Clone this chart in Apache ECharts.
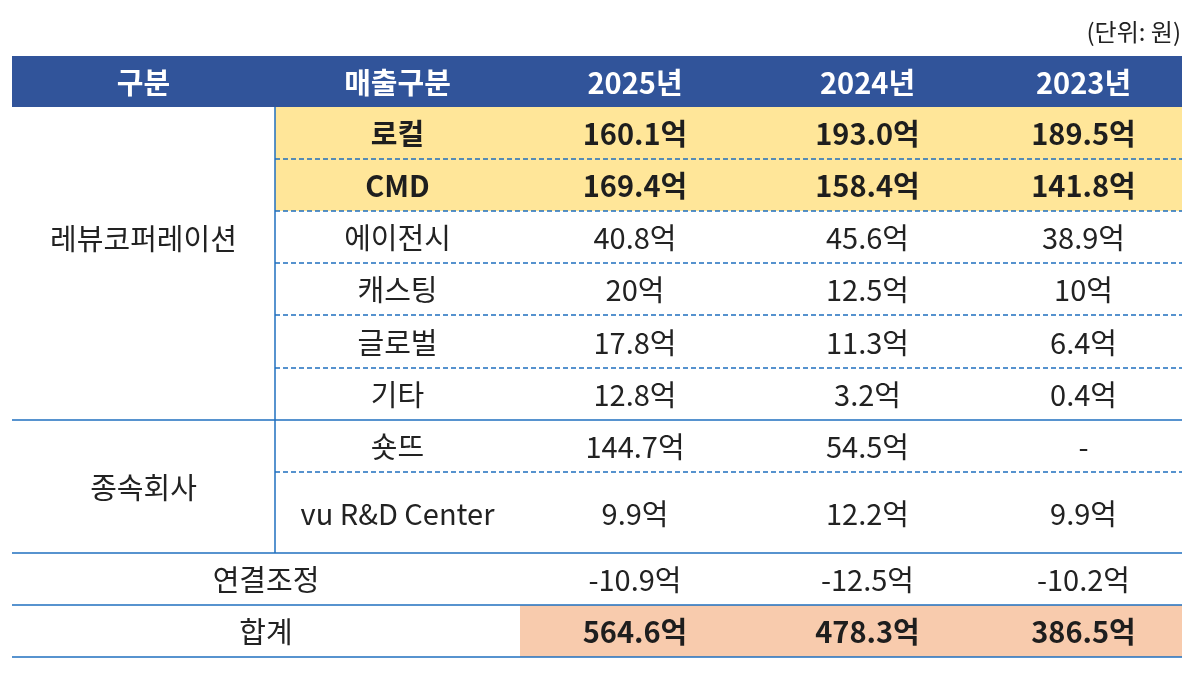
<!DOCTYPE html>
<html>
<head>
<meta charset="utf-8">
<script src="https://cdn.jsdelivr.net/npm/echarts@6/dist/echarts.min.js"></script>
<style>
  html, body { margin: 0; padding: 0; background: #fff; }
  #main { width: 1200px; height: 678px; }
</style>
</head>
<body>
<div id="main"></div>
<script>
// 표 데이터
const headCols = ['구분', '매출구분'];
const years = ['2025년', '2024년', '2023년'];
const groups = ['레뷰코퍼레이션', '종속회사'];
const items = ['로컬', 'CMD', '에이전시', '캐스팅', '글로벌', '기타', '숏뜨', 'vu R&D Center'];
const itemGroup = [0, 0, 0, 0, 0, 0, 1, 1];
const highlightItems = ['로컬', 'CMD'];
const sales2025 = ['160.1', '169.4', '40.8', '20', '17.8', '12.8', '144.7', '9.9'];
const sales2024 = ['193.0', '158.4', '45.6', '12.5', '11.3', '3.2', '54.5', '12.2'];
const sales2023 = ['189.5', '141.8', '38.9', '10', '6.4', '0.4', null, '9.9'];
const adjustLabel = '연결조정';
const adjustValues = ['-10.9', '-12.5', '-10.2'];
const totalLabel = '합계';
const totalValues = ['564.6', '478.3', '386.5'];
const unitText = '(단위: 원)';

// 레이아웃 (열 너비, 행 높이)
const colW = [263, 245, 230, 235, 197];
const rowH = [51, 52, 52, 52, 52, 53, 52, 52, 81, 52, 52];
const groupLabelRows = [[1, 6], [7, 9]];

const FONT = '"Noto Sans CJK KR", "Noto Sans", sans-serif';
const FS = 29;
const LINE = '#1f6fbf';
const DASH = '#1f6fbf';

const cum = (arr) => arr.reduce((a, v) => { a.push(a[a.length - 1] + v); return a; }, [0]);
const xEdge = cum(colW);
const yEdge = cum(rowH);
const fmt = (v) => (v == null ? '-' : v + '억');

// 셀 목록
const cells = [];
const addCell = (c0, c1, r0, r1, text, kind) => cells.push({ c0, c1, r0, r1, text, kind });

headCols.concat(years).forEach((h, i) => addCell(i, i + 1, 0, 1, h, 'head'));
groups.forEach((g, gi) => addCell(0, 1, groupLabelRows[gi][0], groupLabelRows[gi][1], g, 'group'));
const yearValues = [sales2025, sales2024, sales2023];
items.forEach((name, i) => {
  const hl = highlightItems.indexOf(name) >= 0;
  addCell(1, 2, i + 1, i + 2, name, hl ? 'hl' : 'item');
  yearValues.forEach((vals, y) => addCell(y + 2, y + 3, i + 1, i + 2, fmt(vals[i]), hl ? 'hl' : 'item'));
});
const adjRow = items.length + 1;
addCell(0, 2, adjRow, adjRow + 1, adjustLabel, 'item');
adjustValues.forEach((v, y) => addCell(y + 2, y + 3, adjRow, adjRow + 1, fmt(v), 'item'));
const totRow = adjRow + 1;
addCell(0, 2, totRow, totRow + 1, totalLabel, 'item');
totalValues.forEach((v, y) => addCell(y + 2, y + 3, totRow, totRow + 1, fmt(v), 'total'));

// 선 목록: [c0, c1, r0, r1, dashed]
const lines = [];
for (let i = 1; i < items.length; i++) {
  const r = i + 1;
  if (itemGroup[i] === itemGroup[i - 1]) lines.push([1, 5, r, r, 1]);
  else lines.push([0, 5, r, r, 0]);
}
lines.push([0, 5, adjRow, adjRow, 0]);
lines.push([0, 5, totRow, totRow, 0]);
lines.push([0, 5, totRow + 1, totRow + 1, 0]);
lines.push([1, 1, 1, adjRow, 0]);

const styleOf = {
  head: { bg: '#31549a', color: '#ffffff', weight: 'bold' },
  group: { bg: null, color: '#222222', weight: 'normal' },
  item: { bg: null, color: '#222222', weight: 'normal' },
  hl: { bg: '#ffe699', color: '#1e1e1e', weight: 'bold' },
  total: { bg: '#f8cbad', color: '#1e1e1e', weight: 'bold' }
};

const chart = echarts.init(document.getElementById('main'), null, { renderer: 'canvas' });
chart.setOption({
  backgroundColor: '#fff',
  animation: false,
  title: {
    text: unitText,
    right: 14,
    top: 15,
    textStyle: { fontFamily: FONT, fontSize: 24, fontWeight: 'normal', color: '#222' }
  },
  grid: { left: 12, right: 18, top: 56, bottom: 21 },
  xAxis: { type: 'value', min: 0, max: xEdge[xEdge.length - 1], show: false },
  yAxis: { type: 'value', min: 0, max: yEdge[yEdge.length - 1], inverse: true, show: false },
  series: [
    {
      type: 'custom',
      coordinateSystem: 'cartesian2d',
      encode: { x: [0, 1], y: [2, 3] },
      data: cells.map(c => [xEdge[c.c0], xEdge[c.c1], yEdge[c.r0], yEdge[c.r1]]),
      renderItem: function (params, api) {
        const cell = cells[params.dataIndex];
        const st = styleOf[cell.kind];
        const p0 = api.coord([api.value(0), api.value(2)]);
        const p1 = api.coord([api.value(1), api.value(3)]);
        const children = [];
        if (st.bg) {
          children.push({
            type: 'rect',
            shape: { x: p0[0], y: p0[1], width: p1[0] - p0[0], height: p1[1] - p0[1] },
            style: { fill: st.bg }
          });
        }
        children.push({
          type: 'text',
          x: (p0[0] + p1[0]) / 2,
          y: (p0[1] + p1[1]) / 2 + 1,
          style: {
            text: cell.text,
            fill: st.color,
            font: st.weight + ' ' + FS + 'px ' + FONT,
            align: 'center',
            verticalAlign: 'middle'
          }
        });
        return { type: 'group', children: children };
      },
      z: 1
    },
    {
      type: 'custom',
      coordinateSystem: 'cartesian2d',
      encode: { x: [0, 1], y: [2, 3] },
      data: lines.map(l => [xEdge[l[0]], xEdge[l[1]], yEdge[l[2]], yEdge[l[3]], l[4]]),
      renderItem: function (params, api) {
        const p0 = api.coord([api.value(0), api.value(2)]);
        const p1 = api.coord([api.value(1), api.value(3)]);
        const dashed = api.value(4) === 1;
        return {
          type: 'line',
          shape: { x1: p0[0], y1: p0[1], x2: p1[0], y2: p1[1] },
          style: {
            stroke: dashed ? DASH : LINE,
            lineWidth: 1.5,
            lineDash: dashed ? [5, 3] : null
          }
        };
      },
      z: 2
    }
  ]
});
</script>
</body>
</html>
